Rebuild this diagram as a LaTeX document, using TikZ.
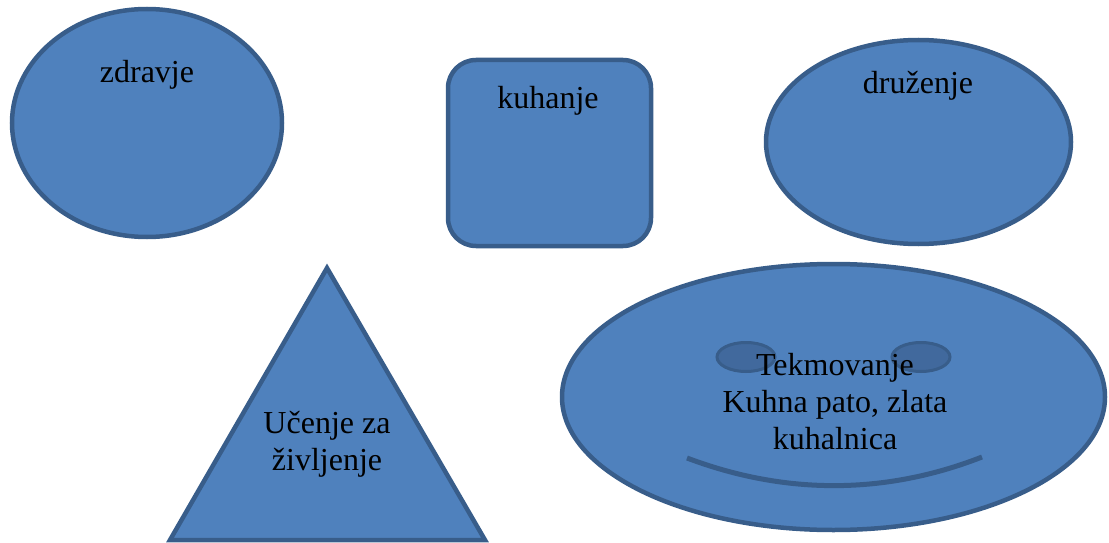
\documentclass[tikz,border=0pt]{standalone}
\usepackage{fontspec}
\setmainfont{Liberation Serif}
\usepackage{xcolor}
\definecolor{shapefill}{HTML}{4F81BD}
\definecolor{shapeline}{HTML}{385D8A}
\definecolor{eyefill}{HTML}{41699D}
\usepackage{tikz}
\usetikzlibrary{shapes.geometric, positioning}
\tikzset{
    blob/.style={
        draw=shapeline, fill=shapefill,
        line width=4.5pt,
        inner sep=0pt
    },
    oval/.style={
        blob, ellipse
    },
    box/.style={
        blob, rectangle, rounded corners=28pt
    },
    eye/.style={
        ellipse, draw=shapeline, fill=eyefill,
        line width=3pt, inner sep=0pt,
        minimum width=58pt, minimum height=29pt
    },
    lbl/.style={
        font=\fontsize{32}{37}\selectfont,
        inner sep=0pt, align=center,
        anchor=base
    },
}
\begin{document}
\begin{tikzpicture}[x=1pt, y=-1pt]
        \useasboundingbox (0,0) rectangle (1109,543);

        % top row
        \node[oval, minimum width=270pt, minimum height=228pt] (zdravje) at (147,123) {};
        \node[box, minimum width=203pt, minimum height=186pt] (kuhanje) at (549.5,153) {};
        \node[oval, minimum width=305pt, minimum height=204pt] (druzenje) at (918.5,142) {};

        \node[lbl] (tzdravje) at (147,82) {zdravje};
        \node[lbl] (tkuhanje) at (548,109) {kuhanje};
        \node[lbl] (tdruzenje) at (918,93) {druženje};

        % triangle
        \coordinate (top) at (327,268);
        \coordinate (bl) at (170,540);
        \coordinate (br) at (485,540);
        \draw[blob, line join=miter] (top)--(br)--(bl)--cycle;
        \node[lbl] (tucenje) at (327,470) {Učenje za\\življenje};

        % smiley
        \node[oval, minimum width=543pt, minimum height=266pt] (smiley) at (833.5,397) {};
        \node[eye] (leye) at (746,357) {};
        \node[eye] (reye) at (921,357) {};
        \coordinate (ml) at (687,458);
        \coordinate (mr) at (982,457);
        \draw[shapeline, line width=5pt] (ml) .. controls (785,495) and (885,495) .. (mr);
        \node[lbl] (tsmiley) at (835,449) {Tekmovanje\\Kuhna pato, zlata\\kuhalnica};
\end{tikzpicture}
\end{document}
